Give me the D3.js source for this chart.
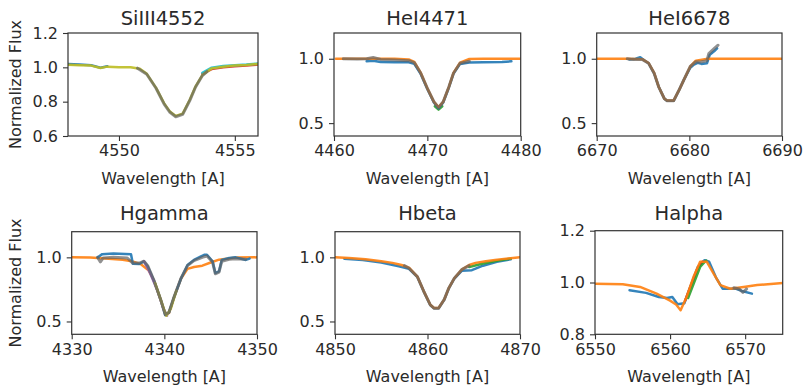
<!DOCTYPE html>
<html>
<head>
<meta charset="utf-8">
<script src="https://cdn.jsdelivr.net/npm/d3@7"></script>
<style>
  body { margin: 0; background: #fff; }
  svg text { font-family: "DejaVu Sans", sans-serif; fill: #2a2a2a; }
</style>
</head>
<body>
<div id="container"></div>
<script>
"use strict";

// SECTION: data
const titles = ["SiIII4552", "HeI4471", "HeI6678", "Hgamma", "Hbeta", "Halpha"];
const xDomains = [[4547.8, 4556], [4460, 4480], [6670, 6690], [4330, 4350], [4850, 4870], [6550, 6575]];
const yDomains = [[0.6, 1.2], [0.4, 1.2], [0.4, 1.2], [0.4, 1.2], [0.4, 1.2], [0.8, 1.2]];
const xTicks = [[4550, 4555], [4460, 4470, 4480], [6670, 6680, 6690], [4330, 4340, 4350], [4850, 4860, 4870], [6550, 6560, 6570]];
const yTicks = [[0.6, 0.8, 1.0, 1.2], [0.5, 1.0], [0.5, 1.0], [0.5, 1.0], [0.5, 1.0], [0.8, 1.0, 1.2]];

// SiIII 4552
const siWave = [4547.8, 4548.3, 4548.8, 4549.2, 4549.5, 4550.0, 4550.5, 4550.9, 4551.2, 4551.6, 4551.95, 4552.2, 4552.45, 4552.75, 4553.05, 4553.3, 4553.6, 4554.0, 4554.5, 4555.0, 4555.5, 4556.0];
const siOlive = [1.015, 1.012, 1.01, 0.996, 1.004, 1.0, 1.0, 0.992, 0.962, 0.88, 0.79, 0.742, 0.717, 0.73, 0.81, 0.887, 0.955, 0.994, 1.004, 1.01, 1.014, 1.02];
const siBlueWave = [4547.8, 4548.3, 4548.8, 4549.2, 4549.5];
const siBlue = [1.02, 1.016, 1.012, 0.998, 1.006];
const siRightWave = [4553.6, 4554.0, 4554.5, 4555.0, 4555.5, 4556.0];
const siRed = [0.962, 0.99, 1.0, 1.006, 1.01, 1.016];
const siCyan = [0.968, 0.998, 1.008, 1.012, 1.016, 1.022];
const siCoreWave = [4550.8, 4551.2, 4551.6, 4551.95, 4552.2, 4552.45, 4552.75, 4553.05, 4553.3, 4553.6, 4553.8];
const siCoreGray = [0.995, 0.96, 0.878, 0.786, 0.738, 0.712, 0.726, 0.805, 0.884, 0.952, 0.975];

// HeI 4471
const he1Wave = [4460.2, 4462, 4463.5, 4464.2, 4465, 4466.5, 4468.0, 4468.6, 4469.3, 4470.0, 4470.7, 4471.2, 4471.7, 4472.3, 4472.8, 4473.5, 4474.5, 4476, 4478, 4480];
const he1Orange = [1.0, 1.0, 1.0, 1.0, 1.0, 1.0, 0.995, 0.975, 0.89, 0.77, 0.666, 0.625, 0.666, 0.78, 0.89, 0.97, 0.998, 1.0, 1.0, 1.0];
const he1BlueWave = [4463.5, 4464.2, 4465, 4466.5, 4468.0, 4468.6, 4469.3, 4470.0, 4470.7, 4471.2, 4471.7, 4472.3, 4472.8, 4473.5, 4474.5, 4476, 4478, 4479];
const he1Blue = [0.98, 0.985, 0.975, 0.972, 0.972, 0.96, 0.88, 0.765, 0.66, 0.615, 0.66, 0.775, 0.885, 0.96, 0.97, 0.972, 0.974, 0.98];
const he1GrayWave = [4461, 4462.5, 4463.5, 4464.2, 4465, 4466.5, 4468, 4468.6, 4469.3, 4470.0, 4470.7, 4471.2, 4471.7, 4472.3, 4472.8, 4473.5, 4474.5];
const he1Gray = [1.0, 0.998, 1.0, 1.01, 0.995, 0.99, 0.985, 0.97, 0.887, 0.77, 0.666, 0.62, 0.666, 0.78, 0.887, 0.965, 0.98];
const he1RedWave = [4470.9, 4471.2, 4471.5];
const he1Red = [0.64, 0.622, 0.64];
const he1GreenWave = [4470.8, 4471.2, 4471.6];
const he1Green = [0.63, 0.605, 0.63];

// HeI 6678
const he2Wave = [6670, 6672, 6673.3, 6674.9, 6675.6, 6676.2, 6676.7, 6677.3, 6677.6, 6678.3, 6678.9, 6679.4, 6680.1, 6680.7, 6682, 6684, 6687, 6690];
const he2Orange = [1.0, 1.0, 1.0, 0.997, 0.967, 0.89, 0.78, 0.69, 0.675, 0.675, 0.758, 0.835, 0.94, 0.985, 1.0, 1.0, 1.0, 1.0];
const he2BlueWave = [6673.5, 6674.2, 6674.7, 6675.2, 6675.6, 6676.2, 6676.7, 6677.3, 6677.6, 6678.3, 6678.9, 6679.4, 6680.1, 6680.5, 6680.9, 6681.3, 6681.9, 6682.2, 6682.7, 6683.0];
const he2Blue = [0.995, 1.0, 1.012, 0.985, 0.965, 0.887, 0.78, 0.69, 0.673, 0.673, 0.758, 0.835, 0.93, 0.955, 0.968, 0.96, 0.965, 1.03, 1.06, 1.08];
const he2GrayWave = [6673.3, 6674.0, 6674.9, 6675.6, 6676.2, 6676.7, 6677.3, 6677.6, 6678.3, 6678.9, 6679.4, 6680.1, 6680.7, 6681.2, 6681.9, 6682.1, 6682.7, 6683.1];
const he2Gray = [1.0, 0.995, 0.995, 0.965, 0.887, 0.78, 0.69, 0.673, 0.673, 0.758, 0.835, 0.94, 0.977, 0.975, 0.985, 1.04, 1.08, 1.105];

// Hgamma
const hgWave = [4330, 4332, 4334, 4335.5, 4336.5, 4337.5, 4338.3, 4338.9, 4339.6, 4340.1, 4340.5, 4341.0, 4341.8, 4342.5, 4343.2, 4344.1, 4345, 4345.9, 4347.7, 4350];
const hgOrange = [1.0, 0.998, 0.99, 0.982, 0.97, 0.945, 0.9, 0.815, 0.67, 0.555, 0.565, 0.68, 0.835, 0.91, 0.925, 0.935, 0.96, 0.982, 0.998, 1.0];
const hgBlueWave = [4332.8, 4333.3, 4334.5, 4336.4, 4336.6, 4337.3, 4337.8, 4338.2, 4338.9, 4339.6, 4340.1, 4340.5, 4341.0, 4341.8, 4342.5, 4343.2, 4344.3, 4344.6, 4345.2, 4345.5, 4345.9, 4346.2, 4347.0, 4347.7, 4348.8, 4349.2];
const hgBlue = [1.0, 1.025, 1.03, 1.025, 0.95, 0.948, 0.968, 0.93, 0.814, 0.67, 0.55, 0.57, 0.68, 0.835, 0.94, 0.98, 1.02, 1.02, 0.97, 0.878, 0.89, 0.98, 0.995, 1.0, 0.98, 0.99];
const hgGrayWave = [4332.8, 4333.1, 4333.4, 4334.5, 4336.0, 4336.6, 4337.3, 4337.8, 4338.2, 4338.9, 4339.6, 4340.1, 4340.5, 4341.0, 4341.8, 4342.5, 4343.2, 4344.3, 4344.6, 4345.2, 4345.5, 4345.9, 4346.2, 4347.0, 4347.7, 4348.8];
const hgGray = [1.0, 0.965, 0.995, 1.0, 0.995, 0.955, 0.955, 0.97, 0.935, 0.816, 0.672, 0.552, 0.572, 0.682, 0.837, 0.935, 0.975, 1.005, 1.01, 0.965, 0.872, 0.885, 0.97, 0.985, 0.99, 0.985];
const hgPurpleWave = [4337.8, 4338.5, 4339.2, 4339.9, 4340.3];
const hgPurple = [0.97, 0.87, 0.75, 0.6, 0.545];
const hgOliveWave = [4339.0, 4339.7, 4340.2, 4340.7, 4341.3];
const hgOlive = [0.8, 0.65, 0.545, 0.6, 0.74];

// Hbeta
const hbWave = [4850, 4851.5, 4853.3, 4855, 4856.2, 4857.2, 4858.0, 4858.9, 4859.6, 4860.3, 4860.7, 4861.2, 4861.8, 4862.3, 4862.9, 4863.7, 4864.5, 4865.2, 4866.3, 4867.3, 4868.5, 4870];
const hbOrange = [1.0, 0.995, 0.985, 0.97, 0.957, 0.94, 0.92, 0.85, 0.735, 0.63, 0.605, 0.605, 0.67, 0.76, 0.837, 0.904, 0.94, 0.957, 0.97, 0.98, 0.99, 1.0];
const hbBlueWave = [4851, 4853, 4855, 4856.9, 4858.0, 4858.9, 4859.6, 4860.3, 4860.7, 4861.2, 4861.8, 4862.3, 4862.9, 4863.7, 4864.8, 4866, 4867.5, 4869];
const hbBlue = [0.99, 0.98, 0.96, 0.93, 0.91, 0.848, 0.733, 0.628, 0.603, 0.603, 0.668, 0.758, 0.835, 0.895, 0.9, 0.935, 0.965, 0.985];
const hbGrayWave = [4857.5, 4858.0, 4858.9, 4859.6, 4860.3, 4860.7, 4861.2, 4861.8, 4862.3, 4862.9, 4863.7, 4864.5];
const hbGray = [0.935, 0.915, 0.85, 0.735, 0.63, 0.603, 0.603, 0.67, 0.76, 0.837, 0.904, 0.935];
const hbGreenWave = [4864.5, 4866, 4867.5, 4869];
const hbGreen = [0.925, 0.952, 0.974, 0.99];

// Halpha
const haWave = [6550, 6553.7, 6556.0, 6558.2, 6560.0, 6560.8, 6561.4, 6562.2, 6563.1, 6564.0, 6564.9, 6565.8, 6566.7, 6568.0, 6569.8, 6571.6, 6575];
const haOrange = [0.995, 0.993, 0.983, 0.957, 0.93, 0.915, 0.893, 0.944, 1.02, 1.08, 1.08, 1.034, 0.99, 0.976, 0.983, 0.99, 0.998];
const haBlueWave = [6554.6, 6556.8, 6558.5, 6559.6, 6560.3, 6561.0, 6561.9, 6562.6, 6563.7, 6564.6, 6565.2, 6566.1, 6567.0, 6568.8, 6569.7, 6570.9];
const haBlue = [0.97, 0.96, 0.944, 0.94, 0.944, 0.916, 0.92, 0.976, 1.06, 1.086, 1.08, 1.02, 0.976, 0.976, 0.966, 0.957];
const haGrayWave = [6568.5, 6569.2, 6569.7, 6570.2];
const haGray = [0.98, 0.975, 0.962, 0.975];
const haRedWave = [6562.0, 6562.8, 6563.6, 6564.3];
const haRed = [0.93, 0.99, 1.05, 1.08];
const haGreenWave = [6562.4, 6563.2, 6564.0, 6564.8];
const haGreen = [0.94, 1.0, 1.06, 1.085];

// series per panel, drawn in order
const seriesByPanel = [
  [[siBlueWave, siBlue, "blue"], [siRightWave, siRed, "red"], [siRightWave, siCyan, "cyan"], [siWave, siOlive, "olive"], [siCoreWave, siCoreGray, "gray"]],
  [[he1RedWave, he1Red, "red"], [he1GreenWave, he1Green, "green"], [he1BlueWave, he1Blue, "blue"], [he1Wave, he1Orange, "orange"], [he1GrayWave, he1Gray, "gray"]],
  [[he2BlueWave, he2Blue, "blue"], [he2Wave, he2Orange, "orange"], [he2GrayWave, he2Gray, "gray"]],
  [[hgWave, hgOrange, "orange"], [hgBlueWave, hgBlue, "blue"], [hgPurpleWave, hgPurple, "purple"], [hgOliveWave, hgOlive, "olive"], [hgGrayWave, hgGray, "gray"]],
  [[hbBlueWave, hbBlue, "blue"], [hbGreenWave, hbGreen, "green"], [hbWave, hbOrange, "orange"], [hbGrayWave, hbGray, "gray"]],
  [[haBlueWave, haBlue, "blue"], [haRedWave, haRed, "red"], [haGreenWave, haGreen, "green"], [haWave, haOrange, "orange"], [haGrayWave, haGray, "gray"]]
];

// SECTION: styling and layout
const colors = {
  blue: "#1f77b4", orange: "#ff7f0e", green: "#2ca02c", red: "#d62728",
  purple: "#9467bd", olive: "#bcbd22", cyan: "#17becf", gray: "#626262"
};

// panel frames [left, top, right, bottom]
const boxes = [
  [68, 33, 258, 136], [334, 33, 520.7, 136], [596.7, 33, 782, 136],
  [71.7, 231.7, 257, 334.3], [335, 231.7, 520, 334.3], [595, 230.7, 782.7, 334.3]
];

const svg = d3.select("#container")
    .append("svg")
    .attr("width", 803)
    .attr("height", 389);

boxes.forEach((b, i) => {
  const [x0, y0, x1, y1] = b;
  const x = d3.scaleLinear().domain(xDomains[i]).range([x0, x1]);
  const y = d3.scaleLinear().domain(yDomains[i]).range([y1, y0]);
  const g = svg.append("g");

  const clipId = "clip" + i;
  g.append("clipPath").attr("id", clipId)
    .append("rect").attr("x", x0).attr("y", y0).attr("width", x1 - x0).attr("height", y1 - y0);

  const line = d3.line()
    .x(d => x(d[0]))
    .y(d => y(d[1]))
    .curve(d3.curveLinear);

  const lines = g.append("g").attr("clip-path", `url(#${clipId})`);
  seriesByPanel[i].forEach(s => {
    const pts = s[0].map((w, k) => [w, s[1][k]]);
    const isGray = s[2] === "gray";
    lines.append("path")
      .attr("d", line(pts))
      .attr("fill", "none")
      .attr("stroke", colors[s[2]])
      .attr("stroke-width", isGray ? 3 : 2.5)
      .attr("stroke-opacity", isGray ? 0.7 : 0.9)
      .attr("stroke-linejoin", "round")
      .attr("stroke-linecap", "round");
  });

  // axes
  const xAxis = g.append("g")
    .attr("transform", `translate(0,${y1})`)
    .call(d3.axisBottom(x).tickValues(xTicks[i]).tickFormat(d3.format("d")).tickSize(5).tickPadding(4));
  const yAxis = g.append("g")
    .attr("transform", `translate(${x0},0)`)
    .call(d3.axisLeft(y).tickValues(yTicks[i]).tickFormat(d3.format(".1f")).tickSize(5).tickPadding(5));
  [xAxis, yAxis].forEach(a => {
    a.select(".domain").remove();
    a.selectAll("line").attr("stroke", "#333").attr("stroke-width", 1.1);
    a.selectAll("text").style("font-size", "16px").attr("fill", "#2a2a2a");
  });

  g.append("rect")
    .attr("x", x0).attr("y", y0)
    .attr("width", x1 - x0).attr("height", y1 - y0)
    .attr("fill", "none")
    .attr("stroke", "#333")
    .attr("stroke-width", 1.2);

  // title
  g.append("text")
    .attr("x", (x0 + x1) / 2)
    .attr("y", i < 3 ? 25 : 220)
    .attr("text-anchor", "middle")
    .style("font-size", "19.5px")
    .text(titles[i]);

  // x label
  g.append("text")
    .attr("x", (x0 + x1) / 2)
    .attr("y", y1 + 48)
    .attr("text-anchor", "middle")
    .style("font-size", "16px")
    .text("Wavelength [A]");

  if (i % 3 === 0) {
    g.append("text")
      .attr("transform", `translate(21,${(y0 + y1) / 2}) rotate(-90)`)
      .attr("text-anchor", "middle")
      .style("font-size", "16px")
      .text("Normalized Flux");
  }
});
</script>
</body>
</html>
